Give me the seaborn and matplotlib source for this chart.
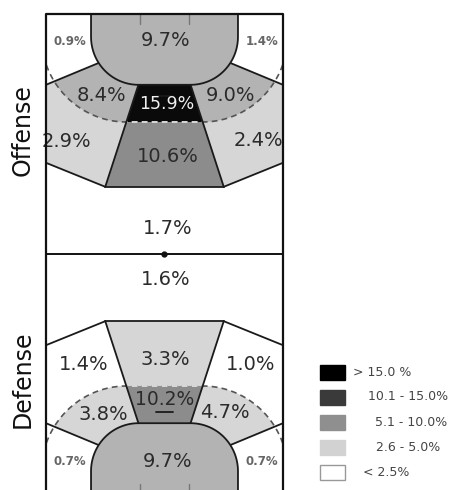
import numpy as np
import matplotlib
matplotlib.use("Agg")
import matplotlib.pyplot as plt
from matplotlib.patches import Polygon, Rectangle
import seaborn as sns

# ---------------------------------- data ----------------------------------
zones = ["goal_area", "left_corner", "right_corner", "left_9m", "right_9m",
         "center_9m", "center_back", "left_back", "right_back", "backcourt"]
offense_pct = [9.7, 0.9, 1.4, 8.4, 9.0, 15.9, 10.6, 2.9, 2.4, 1.7]
defense_pct = [9.7, 0.7, 0.7, 3.8, 4.7, 10.2, 3.3, 1.4, 1.0, 1.6]
# shade class as printed on the map (0 = < 2.5% ... 4 = > 15.0%)
offense_shade = [2, 0, 0, 2, 2, 4, 3, 1, 1, 0]
defense_shade = [2, 0, 0, 1, 1, 3, 1, 0, 0, 0]
legend_labels = ["> 15.0 %", "10.1 - 15.0%", "5.1 - 10.0%", "2.6 - 5.0%", "< 2.5%"]
legend_shade = [4, 3, 2, 1, 0]
half_names = ["Offense", "Defense"]

map_colors = ["#ffffff", "#d6d6d6", "#b3b3b3", "#8c8c8c", "#0a0a0a"]
key_colors = ["#ffffff", "#d2d2d2", "#8f8f8f", "#3a3a3a", "#000000"]

# label anchor (x across, d = metres from that half's goal line)
offense_pos = [(10.1, 2.2), (2.0, 2.3), (18.2, 2.3), (4.7, 6.8), (15.6, 6.8),
               (10.2, 7.5), (10.3, 11.9), (1.7, 10.6), (17.9, 10.5), (10.3, 17.9)]
defense_pos = [(10.3, 2.7), (2.0, 2.7), (18.2, 2.7), (4.8, 6.6), (15.1, 6.8),
               (10.0, 7.9), (10.1, 11.2), (3.2, 10.8), (17.3, 10.8), (10.1, 17.9)]
offense_size = {"left_corner": 8.5, "right_corner": 8.5, "center_9m": 12.5}
defense_size = {"left_corner": 8.5, "right_corner": 8.5, "center_9m": 13.5}

# ------------------------------ court geometry ------------------------------
W, CX, HALF = 20.0, 10.0, 20.0
A6, CY6, R6 = 2.2, 1.9, 4.0      # goal area corners
A9, CY9, R9 = 3.2, 1.8, 7.2      # 9 m line
WING_D, WING_ANG = 5.9, 147      # wing line: sideline end / angle on goal area
BACK_D, TB, TD = 12.4, 5.0, 14.4  # back line and central trapezoid bottom


def arc(cx, cy, r, a0, a1, n=40):
    t = np.radians(np.linspace(a0, a1, n))
    return np.column_stack([cx + r * np.cos(t), cy + r * np.sin(t)])


def rounded(a, cy, r):
    return np.vstack([[CX - a - r, 0], arc(CX - a, cy, r, 180, 90),
                      arc(CX + a, cy, r, 90, 0), [CX + a + r, 0]])


def mirror(pts):
    pts = np.asarray(pts, float).copy()
    pts[:, 0] = W - pts[:, 0]
    return pts


goal_area = rounded(A6, CY6, R6)
nine_area = rounded(A9, CY9, R9)
nine_line = np.vstack([arc(CX - A9, CY9, R9, 180, 90), arc(CX + A9, CY9, R9, 90, 0)])
P = arc(CX - A6, CY6, R6, WING_ANG, WING_ANG, 1)[0]
corner_l = np.vstack([[0, 0], [0, WING_D], arc(CX - A6, CY6, R6, WING_ANG, 180),
                      [CX - A6 - R6, 0]])
sector_l = np.array([[0, WING_D], P, [CX - A6, CY6], [CX, CY6], [CX, TD],
                     [CX - TB, TD], [0, BACK_D]])
trapezoid = np.array([[CX - A6, CY6 + R6], [CX + A6, CY6 + R6], [CX + TB, TD],
                      [CX - TB, TD]])

sns.set_theme(style="white")
plt.rcParams["font.family"] = ["DejaVu Sans"]

fig = plt.figure(figsize=(4.52, 4.9), dpi=100)
ax = fig.add_axes([0, 0, 1, 1])
ax.set_xlim(-46 / 11.85, (452 - 46) / 11.85)
ax.set_ylim(4 / 12, 494 / 12)
ax.axis("off")


def draw_half(top, pct, shade, pos, sizes):
    def tr(pts):
        pts = np.asarray(pts, float).copy()
        if top:
            pts[:, 1] = 2 * HALF - pts[:, 1]
        return pts

    col = dict(zip(zones, [map_colors[s] for s in shade]))

    def fill(pts, c, clip=None, z=1):
        p = Polygon(tr(pts), closed=True, facecolor=c, edgecolor="none", zorder=z)
        ax.add_patch(p)
        if clip is not None:
            p.set_clip_path(clip)
        return p

    fill([[0, 0], [W, 0], [W, HALF], [0, HALF]], col["backcourt"])
    fill(corner_l, col["left_corner"])
    fill(mirror(corner_l), col["right_corner"])
    s_l = fill(sector_l, col["left_back"])
    s_r = fill(mirror(sector_l), col["right_back"])
    fill(nine_area, col["left_9m"], clip=s_l, z=2)
    fill(nine_area, col["right_9m"], clip=s_r, z=2)
    tz = fill(trapezoid, col["center_back"], z=3)
    fill(nine_area, col["center_9m"], clip=tz, z=4)
    ax.add_patch(Polygon(tr(goal_area), closed=True, facecolor=col["goal_area"],
                         edgecolor="#1a1a1a", lw=1.3, zorder=6))

    court = Rectangle((0, 0), W, 2 * HALF, transform=ax.transData)
    xy = tr(nine_line)
    ln, = ax.plot(xy[:, 0], xy[:, 1], color="#555555", lw=1.2, ls=(0, (3.5, 2.5)), zorder=5)
    ln.set_clip_path(court)
    lw_, = ax.plot(xy[:, 0], xy[:, 1], color="#eeeeee", lw=1.2, ls=(0, (3.5, 2.5)), zorder=5)
    lw_.set_clip_path(tz)

    solid = [[[0, WING_D], P], [[0, BACK_D], [CX - TB, TD]],
             [[CX - A6, CY6 + R6], [CX - TB, TD]], [[CX - TB, TD], [CX + TB, TD]],
             [[CX - 0.75, 6.8], [CX + 0.75, 6.8]]]
    for seg in solid + [mirror(s) for s in solid[:3]]:
        xy = tr(seg)
        ax.plot(xy[:, 0], xy[:, 1], color="#1a1a1a", lw=1.3, zorder=5)
    for gx in (CX - 2.1, CX + 2.1):
        xy = tr([[gx, 0], [gx, 0.8]])
        ax.plot(xy[:, 0], xy[:, 1], color="#777777", lw=1.0, zorder=7)

    for z, v, s, (x, d) in zip(zones, pct, shade, pos):
        y = 2 * HALF - d if top else d
        small = z in ("left_corner", "right_corner")
        ax.text(x, y, f"{v:.1f}%", ha="center", va="center",
                fontsize=sizes.get(z, 14), zorder=8,
                fontweight="bold" if small else "normal",
                color="#f0f0f0" if s == 4 else ("#666666" if small else "#2b2b2b"))


draw_half(True, offense_pct, offense_shade, offense_pos, offense_size)
draw_half(False, defense_pct, defense_shade, defense_pos, defense_size)

# court outline, half-way line
ax.plot([0, 0, W, W], [0, 2 * HALF, 2 * HALF, 0], color="#111111", lw=1.6, zorder=9)
ax.plot([0, W], [HALF, HALF], color="#111111", lw=1.4, zorder=9)
ax.plot([CX], [HALF], "o", color="#111111", ms=3.5, zorder=9)

ax.text(-2.0, (494 - 130) / 12, half_names[0], rotation=90, ha="center",
        va="center", fontsize=17, color="#111111")
ax.text(-2.0, (494 - 379) / 12, half_names[1], rotation=90, ha="center",
        va="center", fontsize=17, color="#111111")

# key
key_x = [353, 368, 375, 376, 363]
for i, (lab, s) in enumerate(zip(legend_labels, legend_shade)):
    yc = 372 + 25 * i
    ax.add_patch(Rectangle(((320 - 46) / 11.85, (494 - yc - 7.5) / 12), 25 / 11.85,
                           15 / 12, facecolor=key_colors[s],
                           edgecolor="#999999" if s == 0 else key_colors[s], lw=1))
    ax.text((key_x[i] - 46) / 11.85, (494 - yc) / 12, lab, ha="left", va="center",
            fontsize=9, color="#444444")

fig.savefig("out.png", dpi=100)
